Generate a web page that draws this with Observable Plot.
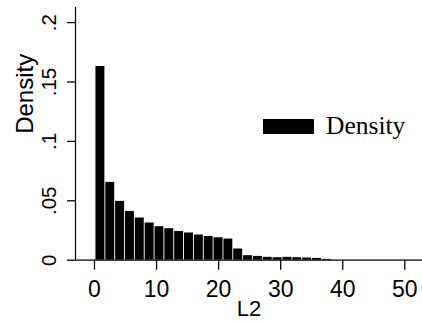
<!DOCTYPE html>
<html>
<head>
<meta charset="utf-8">
<script src="https://cdn.jsdelivr.net/npm/d3@7"></script>
<script src="https://cdn.jsdelivr.net/npm/@observablehq/plot@0.6"></script>
<style>
  body { margin: 0; background: #fff; }
  #wrap { position: relative; width: 422px; height: 321px; overflow: hidden; }
  #swatch { position: absolute; left: 263px; top: 119px; width: 51px; height: 15px; background: #000; }
  #legtext { position: absolute; left: 326px; top: 113px; font-family: "Liberation Serif", "Times New Roman", serif; font-size: 25.5px; line-height: 1; color: #000; white-space: nowrap; }
</style>
</head>
<body>
<div id="wrap"></div>
<script>
// Histogram bins of L2 (left and right edges) and density heights
const binLo = [0.16, 1.75, 3.33, 4.92, 6.50, 8.09, 9.68, 11.26, 12.85, 14.43, 16.02, 17.61,
               19.19, 20.78, 22.36, 23.95, 25.54, 27.12, 28.71, 30.29, 31.88, 33.47, 35.05, 36.64];
const binHi = [1.75, 3.33, 4.92, 6.50, 8.09, 9.68, 11.26, 12.85, 14.43, 16.02, 17.61, 19.19,
               20.78, 22.36, 23.95, 25.54, 27.12, 28.71, 30.29, 31.88, 33.47, 35.05, 36.64, 38.22];
const density = [0.163, 0.0655, 0.0495, 0.041, 0.0355, 0.0313, 0.0282, 0.0265, 0.0242, 0.0229, 0.0212, 0.0200,
                 0.0189, 0.0178, 0.0094, 0.0038, 0.0032, 0.0024, 0.0021, 0.0024, 0.0021, 0.0018, 0.0015, 0.0007];
const xTicks = [0, 10, 20, 30, 40, 50];
const yTicks = [0, 0.05, 0.1, 0.15, 0.2];
const xDomain = [-3.06, 52.85];
const yDomain = [0, 0.2127];
const xTitle = "L2";
const yTitle = "Density";
const legendLabel = "Density";

const bars = binLo.map((lo, i) => ({lo, hi: binHi[i], d: density[i]}));
const sans = "'Liberation Sans', Arial, Helvetica, sans-serif";
const yFmt = d => d === 0 ? "0" : d3.format(".2~f")(d).replace(/^0/, "");

const chart = Plot.plot({
  width: 422,
  height: 321,
  marginLeft: 75,
  marginRight: 0,
  marginTop: 7,
  marginBottom: 61.3,
  style: {fontFamily: sans, background: "#fff", color: "#000"},
  x: {domain: xDomain},
  y: {domain: yDomain},
  marks: [
    Plot.rectY(bars, {x1: "lo", x2: "hi", y: "d", fill: "#000", insetLeft: 0.45, insetRight: 0.45}),
    Plot.ruleY([0], {stroke: "#000", strokeWidth: 1.2}),
    Plot.ruleX([xDomain[0]], {stroke: "#000", strokeWidth: 1.2}),
    Plot.axisX({ticks: xTicks, tickSize: 10, tickPadding: 10, fontSize: 23, label: null, strokeWidth: 1.3, tickFormat: d => String(d)}),
    Plot.axisY({ticks: yTicks, tickSize: 8, tickPadding: 12, tickRotate: -90, fontSize: 20.5, label: null, strokeWidth: 1.3, tickFormat: yFmt}),
    Plot.text([xTitle], {frameAnchor: "bottom", dy: 40.5, lineAnchor: "top", fontSize: 22, fill: "#000"}),
    Plot.text([yTitle], {frameAnchor: "left", dx: -60, rotate: -90, lineAnchor: "top", fontSize: 24, fill: "#000"})
  ]
});

const wrap = document.getElementById("wrap");
wrap.appendChild(chart);
const sw = document.createElement("div");
sw.id = "swatch";
wrap.appendChild(sw);
const lt = document.createElement("div");
lt.id = "legtext";
lt.textContent = legendLabel;
wrap.appendChild(lt);
</script>
</body>
</html>
